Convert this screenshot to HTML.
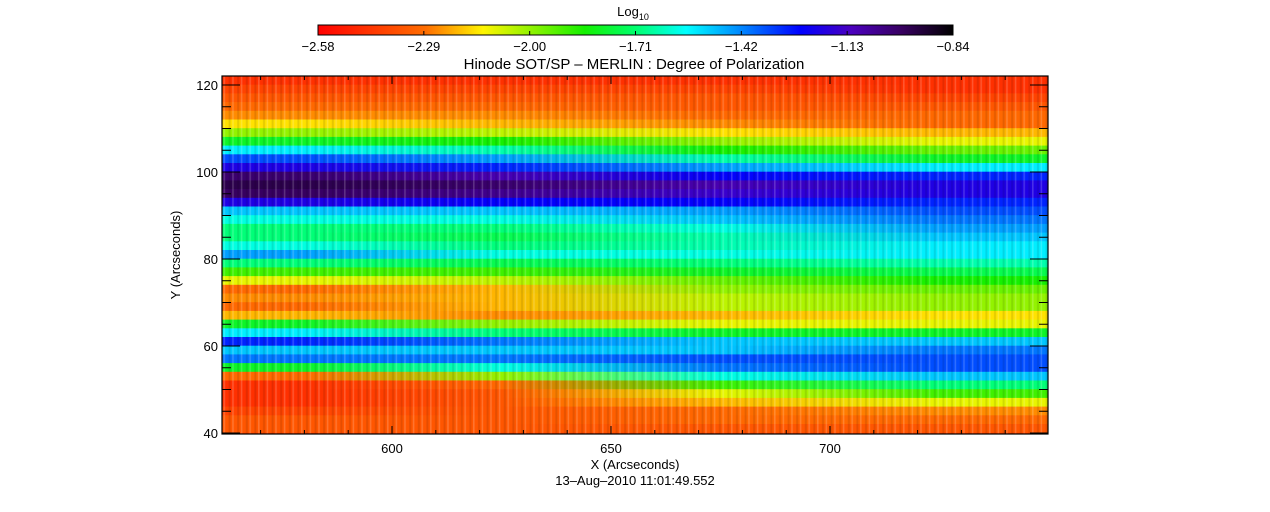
<!DOCTYPE html>
<html><head><meta charset="utf-8"><style>
html,body{margin:0;padding:0;background:#fff}
svg{display:block}
text{font-family:"Liberation Sans",sans-serif;fill:#000}
</style></head><body>
<svg id="chart" width="1270" height="512" viewBox="0 0 1270 512">
<defs>
<linearGradient id="cbGrad" x1="0" x2="1" y1="0" y2="0"></linearGradient>
<pattern id="stripes" width="8.6" height="12" patternUnits="userSpaceOnUse">
<rect x="0" y="0" width="1.6" height="12" fill="rgba(255,255,255,0.18)"></rect>
<rect x="5" y="0" width="2" height="12" fill="rgba(0,0,0,0.10)"></rect>
</pattern>
<clipPath id="plotClip"><rect x="222" y="76" width="826" height="358"></rect></clipPath>
</defs>
<text x="633" y="16" font-size="13" text-anchor="middle">Log<tspan font-size="9" dy="4">10</tspan></text>
<g id="colorbar"></g>
<text x="634" y="69" font-size="15" text-anchor="middle">Hinode SOT/SP – MERLIN : Degree of Polarization</text>
<g id="heatmap" clip-path="url(#plotClip)"></g>
<rect x="222" y="76" width="826" height="358" fill="url(#stripes)"></rect>
<rect x="222" y="76" width="826" height="358" fill="none" stroke="#000" stroke-width="1.2"></rect>
<g id="axes"></g>
<text x="180" y="255" font-size="13" text-anchor="middle" transform="rotate(-90 180 255)">Y (Arcseconds)</text>
<text x="635" y="469" font-size="13" text-anchor="middle">X (Arcseconds)</text>
<text x="635" y="485" font-size="13" text-anchor="middle">13–Aug–2010 11:01:49.552</text>
</svg>
<script>
// ---- data ----
const rowTopY = [122,120,118,116,114,112,110,108,106,104,102,100,98,96,94,92,90,88,86,84,82,80,78,76,74,72,70,68,66,64,62,60,58,56,54,52,50,48,46,44,42,40];
const segX = [561,600,650,700,750];
const segCenters = [580,625,675,725];
const rowValues = [
[-2.45,-2.45,-2.45,-2.45],[-2.4,-2.4,-2.4,-2.45],[-2.35,-2.35,-2.35,-2.4],[-2.3,-2.3,-2.35,-2.35],
[-2.25,-2.25,-2.3,-2.3],[-2.15,-2.2,-2.25,-2.3],[-2.0,-2.05,-2.15,-2.2],[-1.8,-1.85,-2.0,-2.1],
[-1.55,-1.65,-1.85,-1.95],[-1.35,-1.45,-1.65,-1.8],[-1.2,-1.3,-1.45,-1.55],[-1.0,-1.1,-1.25,-1.3],
[-0.95,-1.0,-1.1,-1.2],[-0.98,-1.05,-1.15,-1.2],[-1.2,-1.25,-1.25,-1.3],[-1.5,-1.5,-1.45,-1.35],
[-1.6,-1.6,-1.5,-1.4],[-1.7,-1.7,-1.6,-1.45],[-1.7,-1.75,-1.65,-1.5],[-1.6,-1.7,-1.65,-1.55],
[-1.45,-1.6,-1.6,-1.55],[-1.7,-1.75,-1.7,-1.65],[-1.9,-1.9,-1.8,-1.75],[-2.1,-2.05,-1.95,-1.85],
[-2.3,-2.2,-2.0,-1.95],[-2.25,-2.2,-2.05,-2.0],[-2.3,-2.2,-2.05,-2.0],[-2.2,-2.25,-2.2,-2.15],
[-1.8,-2.0,-2.1,-2.1],[-1.55,-1.7,-1.8,-1.8],[-1.3,-1.4,-1.5,-1.5],[-1.5,-1.5,-1.5,-1.4],
[-1.4,-1.4,-1.35,-1.35],[-1.8,-1.6,-1.4,-1.35],[-2.3,-2.0,-1.6,-1.5],[-2.45,-2.3,-1.9,-1.7],
[-2.45,-2.35,-2.1,-1.9],[-2.45,-2.35,-2.2,-2.1],[-2.4,-2.35,-2.3,-2.25],[-2.35,-2.35,-2.3,-2.3],
[-2.35,-2.35,-2.35,-2.35],[-2.4,-2.4,-2.4,-2.4]
];
const cbTicks = ["-2.58","-2.29","-2.00","-1.71","-1.42","-1.13","-0.84"];
const xTicks = [600,650,700];
const yTicks = [40,60,80,100,120];
const vMin = -2.58, vMax = -0.84;

// ---- scales ----
const sx = x => 392 + (x-600)*4.38;
const sy = y => 346 - (y-60)*4.35;
const NS = "http://www.w3.org/2000/svg";
const cmapStops = [[0,[255,0,0]],[0.17,[255,110,0]],[0.26,[255,245,0]],[0.42,[20,240,0]],[0.5,[0,255,110]],[0.58,[0,255,255]],[0.67,[0,130,255]],[0.76,[0,0,255]],[0.84,[75,0,190]],[0.92,[55,0,95]],[1,[0,0,0]]];
function cmap(v){
  let t=(v-vMin)/(vMax-vMin); t=Math.max(0,Math.min(1,t));
  for(let i=1;i<cmapStops.length;i++){
    if(t<=cmapStops[i][0]){
      const [t0,c0]=cmapStops[i-1],[t1,c1]=cmapStops[i];const f=(t-t0)/(t1-t0);
      return `rgb(${c0.map((c,k)=>Math.round(c+(c1[k]-c)*f)).join(',')})`;
    }
  }
  return 'rgb(0,0,0)';
}
function mk(tag,attrs,parent){const e=document.createElementNS(NS,tag);for(const k in attrs)e.setAttribute(k,attrs[k]);parent.appendChild(e);return e;}

// ---- heatmap ----
const defs=document.querySelector('defs');
const hm=document.getElementById('heatmap');
rowTopY.forEach((yt,i)=>{
  const g=mk('linearGradient',{id:'row'+i,gradientUnits:'userSpaceOnUse',x1:sx(segX[0]),x2:sx(segX[segX.length-1]),y1:0,y2:0},defs);
  const span=sx(segX[segX.length-1])-sx(segX[0]);
  rowValues[i].forEach((v,j)=>{
    mk('stop',{offset:((sx(segCenters[j])-sx(segX[0]))/span).toFixed(4),'stop-color':cmap(v)},g);
  });
  const r=mk('rect',{x:sx(segX[0]),y:sy(yt)-0.3,width:span,height:sy(yt-2)-sy(yt)+0.6,fill:`url(#row${i})`},hm);
  
  
});

// ---- colorbar ----
const cb=document.getElementById('colorbar');
const cg=document.getElementById('cbGrad');
cmapStops.forEach(s=>mk('stop',{offset:s[0],'stop-color':`rgb(${s[1].join(',')})`},cg));
const cbx0=318,cbx1=953;
const cbr=mk('rect',{x:cbx0,y:25,width:cbx1-cbx0,height:10,fill:'url(#cbGrad)',stroke:'#000','stroke-width':1},cb);


cbTicks.forEach((lab,i)=>{
  const x=cbx0+(cbx1-cbx0)*i/(cbTicks.length-1);
  if(i>0&&i<cbTicks.length-1){const tl=mk('line',{x1:x,x2:x,y1:31,y2:35,stroke:'#000'},cb);
  
  }
  const t=mk('text',{x:x,y:51,'font-size':13,'text-anchor':'middle'},cb);
  t.textContent=lab.replace('-','\u2212');
  
  
});

// ---- axes ----
const ax=document.getElementById('axes');
const L=222,R=1048,T=76,B=434;
for(let x=570;x<=750;x+=10){
  const px=sx(x); if(px<L||px>R) continue;
  const len=(x%50===0)?8:4;
  const a=mk('line',{x1:px,x2:px,y1:B,y2:B-len,stroke:'#000'},ax);
  
  
  const b=mk('line',{x1:px,x2:px,y1:T,y2:T+len,stroke:'#000'},ax);
  
  
}
xTicks.forEach(x=>{
  const t=mk('text',{x:sx(x),y:453,'font-size':13,'text-anchor':'middle'},ax);
  t.textContent=x;
  
  
});
for(let y=40;y<=120;y+=5){
  const py=sy(y);
  const len=(y%20===0)?18:9;
  const a=mk('line',{x1:L,x2:L+len,y1:py,y2:py,stroke:'#000'},ax);
  
  
  const b=mk('line',{x1:R,x2:R-len,y1:py,y2:py,stroke:'#000'},ax);
  
  
}
yTicks.forEach(y=>{
  const t=mk('text',{x:218,y:sy(y)+5,'font-size':13,'text-anchor':'end'},ax);
  t.textContent=y;
  
  
});
</script>
</body></html>
